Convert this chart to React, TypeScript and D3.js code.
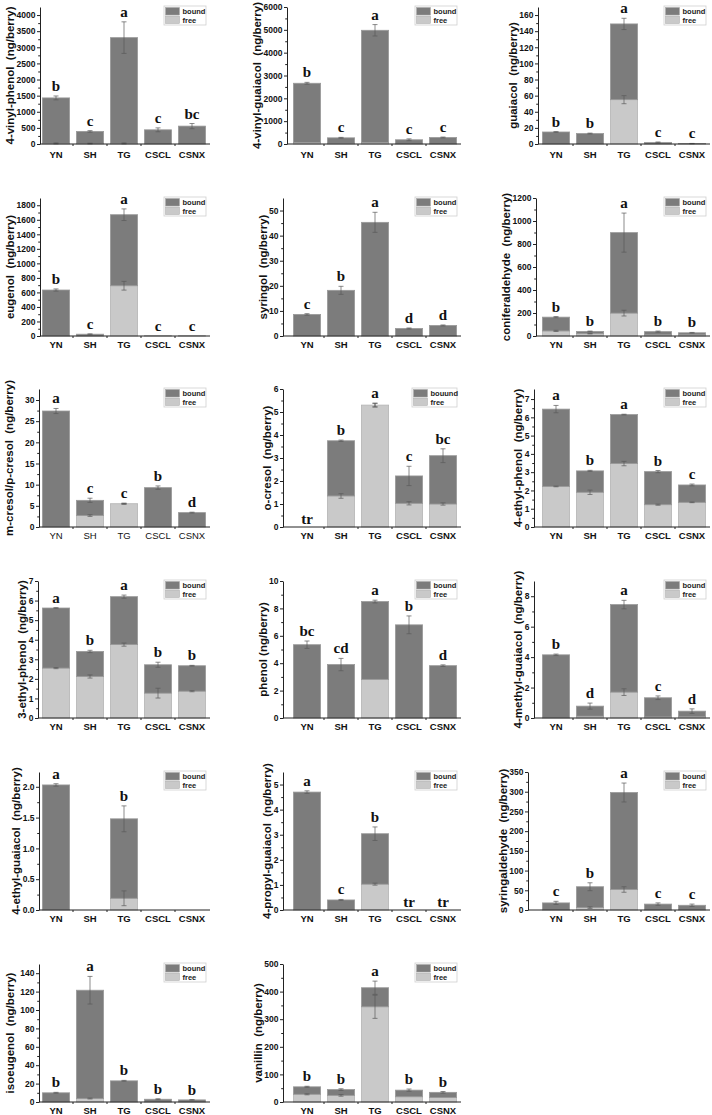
import { useEffect, useRef } from "react";
import * as d3 from "d3";

const categories = ["YN", "SH", "TG", "CSCL", "CSNX"];

// values in ng/berry: total = free + bound, errors are SD on total and on free
const vpTotal = [1430, 390, 3300, 440, 555];
const vpFree = [20, 15, 20, 0, 0];
const vpTotalErr = [60, 25, 490, 60, 80];
const vpFreeErr = [15, 10, 15, 0, 0];
const vpLetters = ["b", "c", "a", "c", "bc"];
const vpTicks = [0, 500, 1000, 1500, 2000, 2500, 3000, 3500, 4000];

const vgTotal = [2660, 270, 4980, 185, 285];
const vgFree = [60, 30, 60, 0, 0];
const vgTotalErr = [40, 20, 250, 40, 20];
const vgFreeErr = [0, 0, 0, 0, 0];
const vgLetters = ["b", "c", "a", "c", "c"];
const vgTicks = [0, 1000, 2000, 3000, 4000, 5000, 6000];

const guTotal = [14.9, 13, 149, 2, 0.5];
const guFree = [0, 0, 55, 0, 0];
const guTotalErr = [0.5, 0.5, 7, 0.5, 0.2];
const guFreeErr = [0, 0, 5, 0, 0];
const guLetters = ["b", "b", "a", "c", "c"];
const guTicks = [0, 20, 40, 60, 80, 100, 120, 140, 160];

const euTotal = [633, 25, 1670, 2, 2];
const euFree = [0, 0, 692, 0, 0];
const euTotalErr = [15, 5, 80, 0, 0];
const euFreeErr = [0, 0, 60, 0, 0];
const euLetters = ["b", "c", "a", "c", "c"];
const euTicks = [0, 200, 400, 600, 800, 1000, 1200, 1400, 1600, 1800];

const syTotal = [8.6, 18.2, 45.3, 3.0, 4.2];
const syFree = [0, 0, 0, 0, 0];
const syTotalErr = [0.3, 1.6, 4, 0.2, 0.2];
const syFreeErr = [0, 0, 0, 0, 0];
const syLetters = ["c", "b", "a", "d", "d"];
const syTicks = [0, 10, 20, 30, 40, 50];

const coTotal = [164, 40, 899, 38, 28];
const coFree = [44, 20, 199, 10, 10];
const coTotalErr = [5, 3, 170, 5, 3];
const coFreeErr = [5, 2, 25, 0, 0];
const coLetters = ["b", "b", "a", "b", "b"];
const coTicks = [0, 200, 400, 600, 800, 1000, 1200];

const mcTotal = [27.4, 6.3, 5.5, 9.3, 3.4];
const mcFree = [0, 2.7, 5.5, 0, 0];
const mcTotalErr = [0.6, 0.5, 0.1, 0.4, 0.1];
const mcFreeErr = [0, 0.2, 0.1, 0, 0];
const mcLetters = ["a", "c", "c", "b", "d"];
const mcTicks = [0, 5, 10, 15, 20, 25, 30];

const ocTotal = [0, 3.75, 5.3, 2.22, 3.1];
const ocFree = [0, 1.35, 5.3, 1.03, 1.0];
const ocTotalErr = [0, 0.03, 0.08, 0.42, 0.3];
const ocFreeErr = [0, 0.1, 0.08, 0.07, 0.05];
const ocLetters = ["tr", "b", "a", "c", "bc"];
const ocTicks = [0, 1, 2, 3, 4, 5, 6];

const epTotal = [6.45, 3.07, 6.15, 3.03, 2.3];
const epFree = [2.22, 1.9, 3.47, 1.22, 1.35];
const epTotalErr = [0.2, 0.03, 0.02, 0.06, 0.05];
const epFreeErr = [0.02, 0.12, 0.12, 0.03, 0.02];
const epLetters = ["a", "b", "a", "b", "c"];
const epTicks = [0, 1, 2, 3, 4, 5, 6, 7];

const e3Total = [5.62, 3.4, 6.2, 2.72, 2.67];
const e3Free = [2.55, 2.12, 3.75, 1.27, 1.37];
const e3TotalErr = [0.02, 0.06, 0.08, 0.13, 0.02];
const e3FreeErr = [0.03, 0.08, 0.08, 0.25, 0.03];
const e3Letters = ["a", "b", "a", "b", "b"];
const e3Ticks = [0, 1, 2, 3, 4, 5, 6, 7];

const phTotal = [5.35, 3.9, 8.5, 6.8, 3.82];
const phFree = [0, 0, 2.82, 0, 0];
const phTotalErr = [0.27, 0.45, 0.1, 0.65, 0.06];
const phFreeErr = [0, 0, 0, 0, 0];
const phLetters = ["bc", "cd", "a", "b", "d"];
const phTicks = [0, 2, 4, 6, 8, 10];

const mgTotal = [4.15, 0.78, 7.45, 1.33, 0.45];
const mgFree = [0, 0.12, 1.7, 0.07, 0.08];
const mgTotalErr = [0.05, 0.2, 0.28, 0.12, 0.15];
const mgFreeErr = [0, 0, 0.22, 0, 0];
const mgLetters = ["b", "d", "a", "c", "d"];
const mgTicks = [0, 2, 4, 6, 8];

const egTotal = [2.03, 0, 1.48, 0, 0];
const egFree = [0, 0, 0.19, 0, 0];
const egTotalErr = [0.02, 0, 0.21, 0, 0];
const egFreeErr = [0, 0, 0.12, 0, 0];
const egLetters = ["a", "", "b", "", ""];
const egTicks = [0, 0.5, 1.0, 1.5, 2.0];

const pgTotal = [4.7, 0.4, 3.04, 0, 0];
const pgFree = [0, 0, 1.03, 0, 0];
const pgTotalErr = [0.05, 0.02, 0.27, 0, 0];
const pgFreeErr = [0, 0, 0.04, 0, 0];
const pgLetters = ["a", "c", "b", "tr", "tr"];
const pgTicks = [0, 1, 2, 3, 4, 5];

const saTotal = [18, 59, 298, 15, 12];
const saFree = [0, 6, 52, 0, 0];
const saTotalErr = [4, 10, 24, 3, 3];
const saFreeErr = [0, 2, 7, 0, 0];
const saLetters = ["c", "b", "a", "c", "c"];
const saTicks = [0, 50, 100, 150, 200, 250, 300, 350];

const isTotal = [10, 121.5, 23, 3, 2.3];
const isFree = [0, 3.8, 0, 0, 0];
const isTotalErr = [0.5, 15, 0.5, 0.5, 0.3];
const isFreeErr = [0, 0.5, 0, 0, 0];
const isLetters = ["b", "a", "b", "b", "b"];
const isTicks = [0, 20, 40, 60, 80, 100, 120, 140];

const vaTotal = [55, 45, 414, 43, 35];
const vaFree = [28, 24, 345, 19, 16];
const vaTotalErr = [2, 3, 24, 4, 3];
const vaFreeErr = [2, 3, 42, 0, 0];
const vaLetters = ["b", "b", "a", "b", "b"];
const vaTicks = [0, 100, 200, 300, 400, 500];

const compounds = [
  ["4-vinyl-phenol  (ng/berry)", vpTotal, vpFree, vpTotalErr, vpFreeErr, vpLetters, vpTicks, 4250],
  ["4-vinyl-guaiacol  (ng/berry)", vgTotal, vgFree, vgTotalErr, vgFreeErr, vgLetters, vgTicks, 6000],
  ["guaiacol  (ng/berry)", guTotal, guFree, guTotalErr, guFreeErr, guLetters, guTicks, 170],
  ["eugenol  (ng/berry)", euTotal, euFree, euTotalErr, euFreeErr, euLetters, euTicks, 1900],
  ["syringol  (ng/berry)", syTotal, syFree, syTotalErr, syFreeErr, syLetters, syTicks, 55],
  ["coniferaldehyde  (ng/berry)", coTotal, coFree, coTotalErr, coFreeErr, coLetters, coTicks, 1200],
  ["m-cresol/p-cresol  (ng/berry)", mcTotal, mcFree, mcTotalErr, mcFreeErr, mcLetters, mcTicks, 32.6],
  ["o-cresol  (ng/berry)", ocTotal, ocFree, ocTotalErr, ocFreeErr, ocLetters, ocTicks, 6],
  ["4-ethyl-phenol  (ng/berry)", epTotal, epFree, epTotalErr, epFreeErr, epLetters, epTicks, 7.55],
  ["3-ethyl-phenol  (ng/berry)", e3Total, e3Free, e3TotalErr, e3FreeErr, e3Letters, e3Ticks, 7],
  ["phenol (ng/berry)", phTotal, phFree, phTotalErr, phFreeErr, phLetters, phTicks, 10],
  ["4-methyl-guaiacol  (ng/berry)", mgTotal, mgFree, mgTotalErr, mgFreeErr, mgLetters, mgTicks, 9],
  ["4-ethyl-guaiacol  (ng/berry)", egTotal, egFree, egTotalErr, egFreeErr, egLetters, egTicks, 2.24],
  ["4-propyl-guaiacol  (ng/berry)", pgTotal, pgFree, pgTotalErr, pgFreeErr, pgLetters, pgTicks, 5.5],
  ["syringaldehyde  (ng/berry)", saTotal, saFree, saTotalErr, saFreeErr, saLetters, saTicks, 350],
  ["isoeugenol  (ng/berry)", isTotal, isFree, isTotalErr, isFreeErr, isLetters, isTicks, 150],
  ["vanillin  (ng/berry)", vaTotal, vaFree, vaTotalErr, vaFreeErr, vaLetters, vaTicks, 500],
];

// page layout
const rowTop = [7, 198, 389, 581, 772, 964];
const rowBase = [144, 336, 527, 718, 910, 1102];
const colBand = [39, 290, 539];
const bandW = 170;
const axisXs = [40, 287, 538, 40, 283, 536, 39, 283, 534, 38, 283, 534, 39, 283, 528, 39, 283];
const titleXs = [11, 261, 513, 11, 269, 510, 9, 269, 524, 22, 268, 525, 24, 274, 512, 10, 268];
const boundColor = "#7c7c7c";
const freeColor = "#c9c9c9";
const sans = "'Liberation Sans', Arial, sans-serif";
const serif = "'Liberation Serif', 'Times New Roman', serif";
const tickFont = 8.5;

function drawPanel(svg, c, i) {
  const [title, total, free, totalErr, freeErr, letters, ticks, yMax] = c;
  const row = Math.floor(i / 3);
  const col = i % 3;
  const top = rowTop[row];
  const base = rowBase[row];
  const ax = axisXs[i];
  const x0 = colBand[col];
  const x = d3
    .scaleBand()
    .domain(categories)
    .range([x0, x0 + bandW])
    .paddingInner(0.2)
    .paddingOuter(0.1);
  const y = d3.scaleLinear().domain([0, yMax]).range([base, top]);
  const cx = (cat) => x(cat) + x.bandwidth() / 2;
  const g = svg.append("g");

  // stacked bars
  const rows = categories.map((cat, j) => ({ cat, free: free[j], bound: total[j] - free[j] }));
  const series = d3.stack().keys(["free", "bound"])(rows);
  series.forEach((s) => {
    g.append("g")
      .selectAll("rect")
      .data(s.filter((d) => d[1] - d[0] > 0))
      .join("rect")
      .attr("x", (d) => x(d.data.cat))
      .attr("width", x.bandwidth())
      .attr("y", (d) => y(d[1]))
      .attr("height", (d) => y(d[0]) - y(d[1]))
      .attr("fill", s.key === "free" ? freeColor : boundColor)
      .attr("stroke", s.key === "free" ? "#b4b4b4" : "#9a9a9a")
      .attr("stroke-width", 0.8);
  });

  // error bars
  const errs = [];
  categories.forEach((cat, j) => {
    if (totalErr[j] > 0) errs.push({ cat, v: total[j], e: totalErr[j] });
    if (freeErr[j] > 0 && free[j] > 0) errs.push({ cat, v: free[j], e: freeErr[j] });
  });
  g.append("g")
    .selectAll("path")
    .data(errs)
    .join("path")
    .attr("d", (d) => {
      const px = cx(d.cat);
      const y1 = y(d.v + d.e);
      const y2 = y(Math.max(0, d.v - d.e));
      return `M${px - 2.5},${y1}H${px + 2.5}M${px},${y1}V${y2}M${px - 2.5},${y2}H${px + 2.5}`;
    })
    .attr("fill", "none")
    .attr("stroke", "#5a5a5a")
    .attr("stroke-width", 0.7);

  // y axis
  const fmt = ticks.some((t) => !Number.isInteger(t)) ? d3.format(".1f") : d3.format("d");
  const yAxis = g
    .append("g")
    .attr("transform", `translate(${ax},0)`)
    .call(d3.axisLeft(y).tickValues(ticks).tickSize(3).tickSizeOuter(0).tickPadding(1.5).tickFormat(fmt));
  yAxis.selectAll("text").style("font", `bold ${tickFont}px ${sans}`).attr("fill", "#111");
  yAxis.selectAll("line, path").attr("stroke", "#222");
  const minors = d3.pairs(ticks).map(([a, b]) => (a + b) / 2);
  g.append("g")
    .attr("transform", `translate(${ax},0)`)
    .call(d3.axisLeft(y).tickValues(minors).tickSize(1.8).tickFormat(() => ""))
    .call((a) => a.select(".domain").remove())
    .selectAll("line")
    .attr("stroke", "#222");

  // x axis
  g.append("line")
    .attr("x1", ax)
    .attr("x2", x0 + bandW + 1)
    .attr("y1", base)
    .attr("y2", base)
    .attr("stroke", "#222");
  const xAxis = g
    .append("g")
    .attr("transform", `translate(0,${base})`)
    .call(d3.axisBottom(x).tickSize(0).tickPadding(row === 0 ? 7.5 : 5));
  xAxis.select(".domain").remove();
  xAxis
    .selectAll("text")
    .style("font", `${i === 6 ? "normal" : "bold"} 9.5px ${sans}`)
    .attr("fill", "#111");
  const bounds = categories.slice(1).map((cat) => x(cat) - (x.step() * x.paddingInner()) / 2);
  g.append("g")
    .selectAll("line")
    .data(bounds)
    .join("line")
    .attr("x1", (d) => d)
    .attr("x2", (d) => d)
    .attr("y1", base)
    .attr("y2", base + 2)
    .attr("stroke", "#222");

  // y title, kept clear of the tick labels
  const labelW = d3.max(ticks, (t) => {
    const s = fmt(t);
    return s.replace(".", "").length * 0.556 * tickFont + (s.includes(".") ? 0.278 * tickFont : 0);
  });
  const tx = Math.min(titleXs[i], ax - 4.5 - labelW - 6.5);
  g.append("text")
    .attr("transform", `translate(${tx},${(top + base) / 2}) rotate(-90)`)
    .attr("text-anchor", "middle")
    .attr("dominant-baseline", "central")
    .style("white-space", "pre")
    .style("font", `bold 11.5px ${sans}`)
    .attr("fill", "#111")
    .text(title);

  // significance letters
  categories.forEach((cat, j) => {
    const L = letters[j];
    if (!L) return;
    const yy = L === "tr" ? base - 3 : y(total[j] + totalErr[j]) - 5;
    g.append("text")
      .attr("x", cx(cat))
      .attr("y", yy)
      .attr("text-anchor", "middle")
      .style("font", `bold 15px ${serif}`)
      .attr("fill", "#111")
      .text(L);
  });

  // legend
  const boundLabel = i === 7 ? "bouund" : "bound";
  const lw = i === 7 ? 45 : 42;
  const lx = x0 + bandW - 3 - lw;
  const ly = top - 1;
  const lg = g.append("g").attr("transform", `translate(${lx},${ly})`);
  lg.append("rect")
    .attr("width", lw)
    .attr("height", 19)
    .attr("fill", "#fff")
    .attr("stroke", "#cfcfcf")
    .attr("stroke-width", 0.8);
  [
    [boundLabel, boundColor],
    ["free", freeColor],
  ].forEach(([label, color], k) => {
    lg.append("rect")
      .attr("x", 1.5)
      .attr("y", 1.5 + k * 8.5)
      .attr("width", 14)
      .attr("height", 7.5)
      .attr("fill", color)
      .attr("stroke", "#a8a8a8")
      .attr("stroke-width", 0.5);
    lg.append("text")
      .attr("x", 18.5)
      .attr("y", 8 + k * 8.5)
      .style("font", `bold 7.5px ${sans}`)
      .attr("fill", "#222")
      .text(label);
  });
}

export default function App() {
  const ref = useRef(null);
  useEffect(() => {
    const svg = d3.select(ref.current);
    svg.selectAll("*").remove();
    compounds.forEach((c, i) => drawPanel(svg, c, i));
  }, []);
  return (
    <svg
      ref={ref}
      width={712}
      height={1115}
      style={{ position: "absolute", left: 0, top: 0, background: "#fff" }}
    />
  );
}
